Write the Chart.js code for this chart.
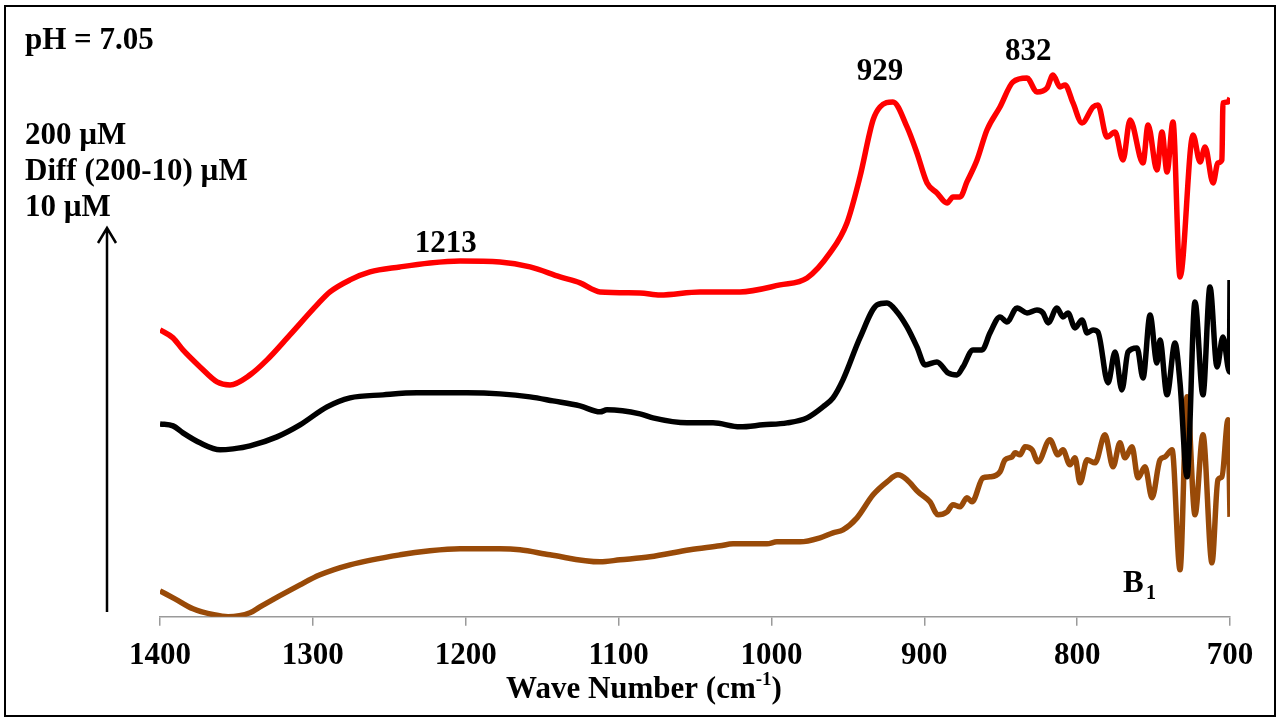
<!DOCTYPE html>
<html>
<head>
<meta charset="utf-8">
<script src="https://cdn.jsdelivr.net/npm/chart.js@4/dist/chart.umd.min.js"></script>
<style>
    html, body { margin: 0; padding: 0; background: #fff; }
    #wrap { width: 1278px; height: 719px; }
</style>
</head>
<body>
<div id="wrap"><canvas id="spectra" width="1278" height="719"></canvas></div>
<script>
// wave numbers (cm-1) and offset absorbance
const wave200 = [1400, 1391.5, 1385, 1373.8, 1362.7, 1354.2, 1341.1, 1330, 1315, 1297.3, 1288.8, 1275.7, 1262.6, 1243, 1223.4, 1203.7, 1177.6, 1157.9, 1138.3, 1125.2, 1112.1, 1086, 1072.9, 1046.7, 1020.6, 994.4, 976.7, 961.7, 950.6, 942.1, 933.5, 929, 920.5, 911.3, 904.8, 898.2, 891.7, 885.1, 881.2, 876.6, 872.1, 865.5, 859, 850.5, 842, 832.8, 826.3, 819.7, 815.8, 811.2, 807.9, 802.7, 796.8, 789.6, 786.4, 780.5, 775.2, 770, 765.4, 756.9, 753.6, 747.8, 744.5, 741.2, 737.3, 732.7, 724.2, 719.6, 716.3, 711.1, 707.9, 705.3, 704.6, 701.3, 700];
const abs200 = [2.87, 2.79, 2.67, 2.50, 2.35, 2.32, 2.42, 2.57, 2.82, 3.12, 3.25, 3.37, 3.45, 3.50, 3.54, 3.56, 3.55, 3.50, 3.40, 3.34, 3.25, 3.24, 3.22, 3.25, 3.25, 3.32, 3.39, 3.64, 3.94, 4.40, 4.97, 5.10, 5.15, 4.90, 4.64, 4.34, 4.24, 4.14, 4.20, 4.20, 4.35, 4.57, 4.87, 5.10, 5.35, 5.39, 5.25, 5.29, 5.42, 5.30, 5.32, 5.14, 4.94, 5.10, 5.12, 4.80, 4.85, 4.57, 4.97, 4.54, 4.92, 4.47, 4.85, 4.45, 4.95, 3.40, 4.82, 4.55, 4.70, 4.34, 4.54, 4.57, 5.14, 5.15, 5.19];

const waveDiff = [1400, 1391.5, 1385, 1373.8, 1360.7, 1352.2, 1341.1, 1323.5, 1308.4, 1290.7, 1275.7, 1254.1, 1231.9, 1199.2, 1177.6, 1157.9, 1142.9, 1125.2, 1112.1, 1107.6, 1086, 1077.5, 1055.2, 1038.2, 1020.6, 1005.5, 989.8, 976.7, 966.3, 959.7, 953.2, 942.1, 930.9, 924.4, 917.8, 911.3, 904.8, 899.5, 891.7, 884.5, 878.6, 874.7, 868.1, 862.2, 857, 850.5, 845.9, 839.3, 832.8, 826.3, 822.3, 819, 813.2, 809.3, 806, 801.4, 796.8, 793.5, 789.6, 786.4, 779.8, 775.2, 770.7, 766.7, 760.8, 756.9, 752.3, 747.8, 745.8, 741.2, 736, 732.7, 728.1, 722.9, 717.7, 713.1, 708.5, 704.6, 700.4, 700];
const absDiff = [1.93, 1.91, 1.84, 1.74, 1.67, 1.68, 1.71, 1.80, 1.92, 2.10, 2.19, 2.22, 2.24, 2.24, 2.23, 2.20, 2.16, 2.11, 2.05, 2.07, 2.03, 1.99, 1.94, 1.94, 1.90, 1.92, 1.94, 1.99, 2.10, 2.19, 2.37, 2.79, 3.12, 3.14, 3.05, 2.90, 2.70, 2.52, 2.55, 2.44, 2.42, 2.50, 2.67, 2.67, 2.84, 3.00, 2.95, 3.09, 3.04, 3.07, 3.04, 2.94, 3.09, 3.00, 3.04, 2.89, 2.97, 2.84, 2.87, 2.85, 2.34, 2.65, 2.27, 2.65, 2.69, 2.39, 3.02, 2.54, 2.77, 2.22, 2.74, 2.34, 1.40, 3.15, 2.22, 3.30, 2.50, 2.80, 2.45, 3.37];

const wave10 = [1400, 1390.2, 1378.4, 1364.7, 1355.5, 1341.1, 1334.6, 1308.4, 1295.3, 1275.7, 1243, 1223.4, 1203.7, 1177.6, 1164.5, 1144.9, 1112.1, 1099, 1079.5, 1053.3, 1033.6, 1025.1, 1002.9, 996.4, 981.3, 968.2, 959.7, 953.2, 944, 933.5, 924.4, 917.2, 911.3, 904.1, 896.3, 891, 885.1, 881.2, 876.6, 872.1, 868.8, 861.6, 857, 850.5, 847.2, 842.6, 840.6, 837.4, 834.1, 829.5, 825.6, 817.8, 812.5, 809.3, 804.7, 801.4, 798.1, 793.5, 788.3, 781.8, 776.5, 772, 768.7, 764.1, 760.2, 755.6, 751, 745.8, 742.5, 737.9, 732.7, 728.1, 722.9, 717.7, 711.8, 707.9, 705.3, 701.3, 700];
const abs10 = [0.26, 0.18, 0.08, 0.02, 0.00, 0.04, 0.10, 0.32, 0.42, 0.52, 0.62, 0.66, 0.68, 0.68, 0.67, 0.62, 0.55, 0.57, 0.60, 0.67, 0.71, 0.73, 0.73, 0.75, 0.75, 0.79, 0.84, 0.87, 0.99, 1.22, 1.35, 1.42, 1.37, 1.25, 1.15, 1.02, 1.05, 1.12, 1.10, 1.19, 1.15, 1.39, 1.40, 1.45, 1.57, 1.60, 1.64, 1.62, 1.70, 1.67, 1.55, 1.77, 1.62, 1.67, 1.52, 1.59, 1.34, 1.57, 1.54, 1.82, 1.50, 1.74, 1.59, 1.70, 1.39, 1.50, 1.19, 1.57, 1.60, 1.67, 0.47, 2.20, 1.02, 1.82, 0.54, 1.37, 1.40, 1.97, 1.00];

const xTicks = [1400, 1300, 1200, 1100, 1000, 900, 800, 700];
const peakLabels = ['1213', '929', '832'];
const peakWaves = [1213, 929, 832];

const FONT = '"Liberation Serif", "Times New Roman", serif';

function toPoints(xs, ys) {
    return xs.map((x, i) => ({ x: x, y: ys[i] }));
}

function series(label, xs, ys, color) {
    return {
        label: label,
        data: toPoints(xs, ys),
        borderColor: color,
        borderWidth: 5.5,
        pointRadius: 0,
        cubicInterpolationMode: 'monotone',
        fill: false
    };
}

const decor = {
    id: 'decor',
    beforeDraw(chart) {
        const c = chart.ctx;
        c.save();
        c.fillStyle = '#fff';
        c.fillRect(0, 0, chart.width, chart.height);
        c.restore();
    },
    afterDraw(chart) {
        const c = chart.ctx;
        const xs = chart.scales.x;
        c.save();
        c.fillStyle = '#000';
        c.textBaseline = 'alphabetic';

        // frame
        c.strokeStyle = '#000';
        c.lineWidth = 2;
        c.strokeRect(5, 6, 1270, 710);

        c.font = 'bold 31px ' + FONT;
        c.textAlign = 'left';
        c.fillText('pH = 7.05', 25, 49);
        c.fillText('200 \u00b5M', 25, 144);
        c.fillText('Diff (200-10) \u00b5M', 25, 180);
        c.fillText('10 \u00b5M', 25, 216);

        // arrow
        c.lineWidth = 2.5;
        c.beginPath();
        c.moveTo(107, 612);
        c.lineTo(107, 228);
        c.moveTo(98, 243);
        c.lineTo(107, 228);
        c.lineTo(116, 243);
        c.stroke();

        // peak labels
        c.font = 'bold 31px ' + FONT;
        c.textAlign = 'center';
        const labelY = [252, 80, 60];
        peakLabels.forEach((t, i) => {
            c.fillText(t, xs.getPixelForValue(peakWaves[i]), labelY[i]);
        });

        // B1
        c.textAlign = 'left';
        c.fillText('B', 1123, 592);
        c.font = 'bold 20px ' + FONT;
        c.fillText('1', 1146, 599);

        // axis title with superscript
        const a = 'Wave Number (cm';
        const sup = '-1';
        const b = ')';
        c.font = 'bold 31px ' + FONT;
        const wa = c.measureText(a).width;
        const wb = c.measureText(b).width;
        c.font = 'bold 19px ' + FONT;
        const ws = c.measureText(sup).width;
        const x0 = 644 - (wa + ws + wb) / 2;
        c.font = 'bold 31px ' + FONT;
        c.fillText(a, x0, 698);
        c.font = 'bold 19px ' + FONT;
        c.fillText(sup, x0 + wa, 685);
        c.font = 'bold 31px ' + FONT;
        c.fillText(b, x0 + wa + ws, 698);
        c.restore();
    }
};

new Chart(document.getElementById('spectra'), {
    type: 'line',
    data: {
        datasets: [
            series('200 \u00b5M', wave200, abs200, '#ff0000'),
            series('Diff (200-10) \u00b5M', waveDiff, absDiff, '#000000'),
            series('10 \u00b5M', wave10, abs10, '#994a08')
        ]
    },
    options: {
        responsive: false,
        animation: false,
        layout: { padding: { left: 160, right: 48, top: 17, bottom: 32 } },
        plugins: {
            legend: { display: false },
            tooltip: { enabled: false }
        },
        scales: {
            x: {
                type: 'linear',
                reverse: true,
                min: 700,
                max: 1400,
                afterBuildTicks: (axis) => { axis.ticks = xTicks.map(v => ({ value: v })); },
                ticks: {
                    autoSkip: false,
                    maxRotation: 0,
                    padding: 12,
                    color: '#000',
                    font: { family: FONT, size: 31, weight: 'bold' },
                    callback: (v) => String(v)
                },
                grid: { drawOnChartArea: false, drawTicks: true, tickLength: 9, color: '#9a9a9a', lineWidth: 1.5 },
                border: { display: true, color: '#9a9a9a', width: 1.5 }
            },
            y: {
                display: false,
                min: 0,
                max: 6
            }
        }
    },
    plugins: [decor]
});
</script>
</body>
</html>
